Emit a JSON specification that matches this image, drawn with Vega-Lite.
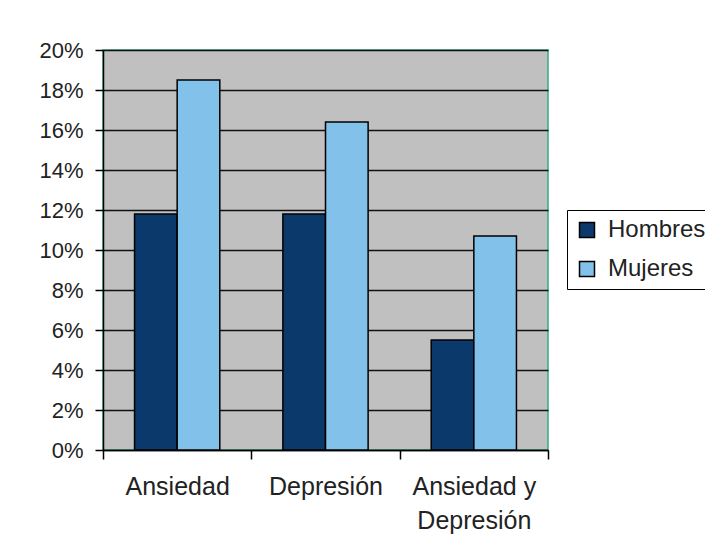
{
  "$schema": "https://vega.github.io/schema/vega-lite/v6.json",
  "width": 445,
  "height": 400,
  "autosize": {"type": "none"},
  "padding": {"left": 103, "top": 50, "right": 157, "bottom": 100},
  "background": "white",
  "data": {
    "values": [
      {"categoria": "Ansiedad", "sexo": "Hombres", "valor": 0.118},
      {"categoria": "Ansiedad", "sexo": "Mujeres", "valor": 0.185},
      {"categoria": "Depresión", "sexo": "Hombres", "valor": 0.118},
      {"categoria": "Depresión", "sexo": "Mujeres", "valor": 0.164},
      {"categoria": "Ansiedad y Depresión", "sexo": "Hombres", "valor": 0.055},
      {"categoria": "Ansiedad y Depresión", "sexo": "Mujeres", "valor": 0.107}
    ]
  },
  "mark": {"type": "bar", "stroke": "black", "strokeWidth": 1.5},
  "encoding": {
    "x": {
      "field": "categoria",
      "type": "nominal",
      "sort": ["Ansiedad", "Depresión", "Ansiedad y Depresión"],
      "scale": {"paddingInner": 0, "paddingOuter": 0},
      "axis": {
        "title": null,
        "labelAngle": 0,
        "tickBand": "extent",
        "tickSize": 9,
        "tickColor": "black",
        "tickWidth": 1.5,
        "domainColor": "black",
        "domainWidth": 1.5,
        "labelFont": "Liberation Sans",
        "labelFontSize": 25,
        "labelColor": "#222",
        "labelPadding": 15,
        "labelLineHeight": 34,
        "labelLimit": 300,
        "labelExpr": "datum.label == 'Ansiedad y Depresión' ? ['Ansiedad y', 'Depresión'] : datum.label"
      }
    },
    "xOffset": {
      "field": "sexo",
      "type": "nominal",
      "scale": {"paddingInner": 0, "paddingOuter": 0.74}
    },
    "y": {
      "field": "valor",
      "type": "quantitative",
      "scale": {"domain": [0, 0.2], "nice": false},
      "axis": {
        "title": null,
        "format": ".0%",
        "values": [0, 0.02, 0.04, 0.06, 0.08, 0.1, 0.12, 0.14, 0.16, 0.18, 0.2],
        "grid": true,
        "gridColor": "#111",
        "gridWidth": 1.5,
        "gridOpacity": 1,
        "tickSize": 8,
        "tickColor": "black",
        "tickWidth": 1.5,
        "domainColor": "black",
        "domainWidth": 1.5,
        "labelFont": "Liberation Sans",
        "labelFontSize": 22,
        "labelColor": "#222",
        "labelPadding": 12
      }
    },
    "color": {
      "field": "sexo",
      "type": "nominal",
      "scale": {"domain": ["Hombres", "Mujeres"], "range": ["#0b396b", "#82c1ea"]},
      "legend": {
        "title": null,
        "orient": "none",
        "legendX": 464,
        "legendY": 160,
        "direction": "vertical",
        "symbolType": "square",
        "symbolSize": 225,
        "symbolStrokeColor": "black",
        "symbolStrokeWidth": 1.5,
        "strokeColor": "black",
        "fillColor": "white",
        "padding": 8,
        "rowPadding": 15,
        "labelFont": "Liberation Sans",
        "labelFontSize": 24,
        "labelColor": "#222",
        "labelOffset": 9,
        "labelLimit": 200
      }
    }
  },
  "config": {
    "view": {"fill": "#c0c0c0", "stroke": "#2fae85", "strokeWidth": 1.5}
  }
}
